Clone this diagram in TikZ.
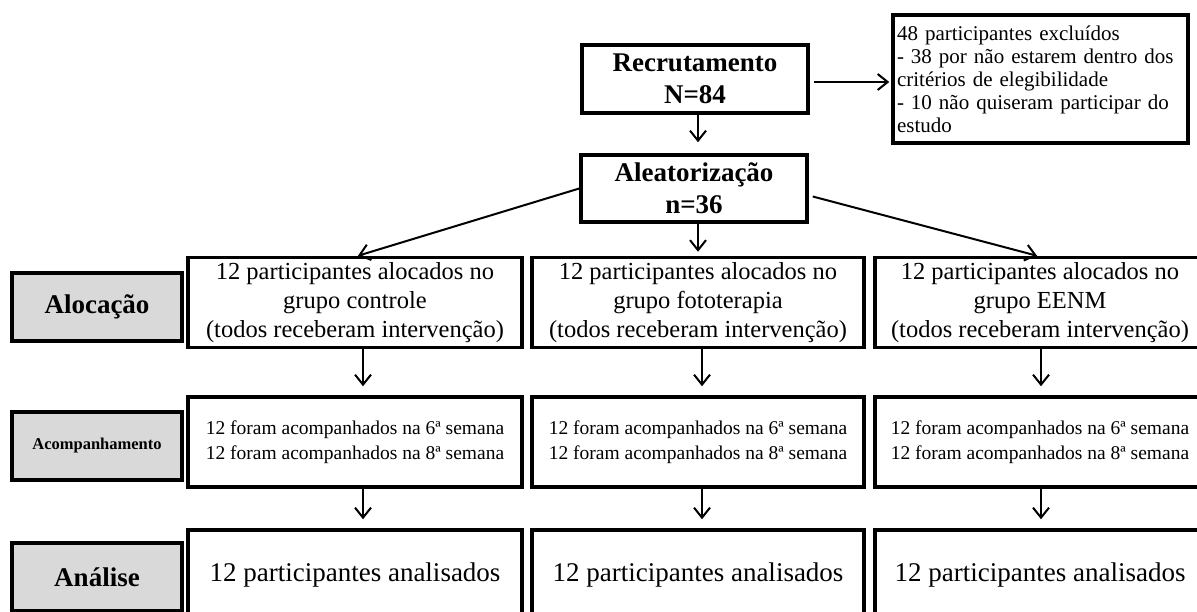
\documentclass[tikz,border=0pt]{standalone}
\usepackage{fontspec}
\setmainfont{Liberation Serif}
\usetikzlibrary{arrows.meta, positioning}
\definecolor{cinza}{RGB}{217,217,217}

\begin{document}
\begin{tikzpicture}[x=1pt, y=-1pt,
    caixa/.style={draw, line width=3.5pt, align=center, inner sep=0pt},
    titulo/.style={caixa, minimum width=226pt, minimum height=68pt, font=\fontsize{27}{32}\selectfont\bfseries},
    grupo/.style={caixa, minimum width=332pt, minimum height=90pt},
    rotulo/.style={caixa, fill=cinza, minimum width=170pt, minimum height=68pt, font=\fontsize{27}{32}\selectfont\bfseries},
    seta/.style={-{Straight Barb[length=10pt,width=16pt]}, line width=2pt}]
    \useasboundingbox (0,0) rectangle (1197,612);
    \clip (0,0) rectangle (1197,612);
    % Caixas do topo
    \node[titulo] (recrutamento) at (695,79) {Recrutamento\\N=84};
    \node[caixa, text width=287pt, align=left, inner xsep=4pt, minimum height=128pt,
          font=\fontsize{21}{23}\selectfont] (excluidos) at (1040.5,79)
          {48 participantes excluídos\\- 38 por não estarem dentro dos\\critérios de elegibilidade\\- 10 não quiseram participar do\\estudo};
    \node[titulo, minimum height=67pt] (aleatorizacao) at (694,188.5) {Aleatorização\\n=36};
    % Rotulos
    \node[rotulo] (alocacao) at (97,307) {Alocação};
    \node[rotulo, font=\fontsize{16.5}{20}\selectfont\bfseries] (acompanhamento) at (97,446) {Acompanhamento};
    \node[rotulo] (analise) at (97,577) {Análise};
    % Alocacao
    \node[grupo, minimum width=334pt, font=\fontsize{24.5}{29}\selectfont] (alocControle) at (355,302.5)
          {12 participantes alocados no\\grupo controle\\(todos receberam intervenção)};
    \node[grupo, font=\fontsize{24.5}{29}\selectfont] (alocFoto) at (698,302.5)
          {12 participantes alocados no\\grupo fototerapia\\(todos receberam intervenção)};
    \node[grupo, minimum width=330pt, font=\fontsize{24.5}{29}\selectfont] (alocEENM) at (1040,302.5)
          {12 participantes alocados no\\grupo EENM\\(todos receberam intervenção)};
    % Acompanhamento
    \node[grupo, minimum width=334pt, font=\fontsize{19.5}{25}\selectfont] (acompControle) at (355,442)
          {12 foram acompanhados na 6ª semana\\12 foram acompanhados na 8ª semana};
    \node[grupo, font=\fontsize{19.5}{25}\selectfont] (acompFoto) at (698,442)
          {12 foram acompanhados na 6ª semana\\12 foram acompanhados na 8ª semana};
    \node[grupo, minimum width=330pt, font=\fontsize{19.5}{25}\selectfont] (acompEENM) at (1040,442)
          {12 foram acompanhados na 6ª semana\\12 foram acompanhados na 8ª semana};
    % Analise
    \node[grupo, minimum width=334pt, font=\fontsize{27}{32}\selectfont] (analControle) at (355,575) {12 participantes analisados};
    \node[grupo, font=\fontsize{27}{32}\selectfont] (analFoto) at (698,575) {12 participantes analisados};
    \node[grupo, minimum width=330pt, font=\fontsize{27}{32}\selectfont] (analEENM) at (1040,575) {12 participantes analisados};
    % Setas
    \draw[seta, shorten >=11pt] ([xshift=3pt]recrutamento.south) -- ([xshift=3pt]recrutamento.south |- aleatorizacao.north);
    \draw[seta, shorten <=4pt, shorten >=2pt] ([yshift=-3pt]recrutamento.east) -- ([yshift=-3pt]recrutamento.east -| excluidos.west);
    \draw[seta] (aleatorizacao.west) -- ([xshift=3pt]alocControle.north);
    \draw[seta, shorten >=4pt] (aleatorizacao.south -| alocFoto.north) -- (alocFoto.north);
    \draw[seta] ([shift={(4pt,-8pt)}]aleatorizacao.east) -- ([xshift=-3pt]alocEENM.north);
    \foreach \col/\dx in {Controle/8, Foto/4, EENM/1} {
        \draw[seta, shorten >=9pt] ([xshift=\dx pt]aloc\col.south) -- ([xshift=\dx pt]acomp\col.north);
        \draw[seta, shorten >=9pt] ([xshift=\dx pt]acomp\col.south) -- ([xshift=\dx pt]anal\col.north);
    }
\end{tikzpicture}
\end{document}
